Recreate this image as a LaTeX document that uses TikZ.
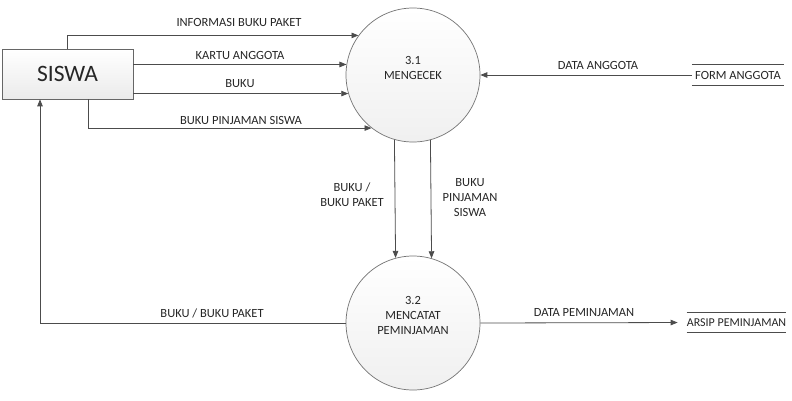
\documentclass[tikz,border=0pt]{standalone}
\usepackage{fontspec}
\setmainfont{Carlito}
\usetikzlibrary{arrows.meta,calc}
\begin{document}
\begin{tikzpicture}[x=1pt,y=-1pt,
  flow/.style={draw=black!70, line width=0.8pt, -{Triangle[length=7pt,width=5.5pt]}},
  lbl/.style={font=\fontsize{12.5}{15}\selectfont, text=black!85, inner sep=0pt, align=center},
  proc/.style={circle, draw=black!55, line width=0.7pt, minimum size=134pt, inner sep=0pt,
               top color=white, bottom color=black!6},
  ent/.style={rectangle, draw=black!60, line width=0.7pt, minimum width=131pt, minimum height=50pt,
              inner sep=0pt, top color=white, bottom color=black!8,
              font=\fontsize{23.5}{28}\selectfont, text=black!85},
  store/.style={font=\fontsize{12.5}{15}\selectfont, text=black!85, inner sep=0pt,
                minimum height=20pt},
  storeline/.style={draw=black!70, line width=0.8pt}]
\useasboundingbox (0,0) rectangle (792,400);

% entity
\node[ent] (siswa) at (67.5,74) {SISWA};

% processes
\node[proc] (c1) at (413,75) {};
\node[lbl] (c1t) at (413,67.5) {3.1\\MENGECEK};
\node[proc] (c2) at (413,323) {};
\node[lbl] (c2t) at (413,315) {3.2\\MENCATAT\\PEMINJAMAN};

% stores
\node[store, minimum width=92pt] (form) at (738,75) {FORM ANGGOTA};
\draw[storeline] (form.north west) -- (form.north east);
\draw[storeline] (form.south west) -- (form.south east);
\node[store, minimum width=95pt, minimum height=19pt, font=\fontsize{12}{15}\selectfont] (arsip) at (736.5,322.5) {ARSIP PEMINJAMAN};
\draw[storeline] (arsip.north west) -- (arsip.north east);
\draw[storeline] (arsip.south west) -- (arsip.south east);

% flows from SISWA
\draw[flow] (67,0 |- siswa.north) |- (c1.144.4);
\draw[flow] (c1.171.4 -| siswa.east) -- (c1.171.4);
\draw[flow] (c1.196.5 -| siswa.east) -- (c1.196.5);
\draw[flow] (88,0 |- siswa.south) |- (c1.232.3);

% return flow
\draw[flow] (c2.west) -| (40,0 |- siswa.south);

% store flows
\draw[flow] (form.west) -- (c1.east);
\draw[flow, shorten >=9pt] (c2.east) -- (arsip.west);

% vertical flows
\draw[flow] (c1.254.4) -- (c2.105.6);
\draw[flow] (c1.285.6) -- (c2.74.4);

% labels
\node[lbl] (l1) at (239,22) {INFORMASI BUKU PAKET};
\node[lbl] (l2) at (240,55) {KARTU ANGGOTA};
\node[lbl] (l3) at (240,84) {BUKU};
\node[lbl] (l4) at (241,120) {BUKU PINJAMAN SISWA};
\node[lbl] (l5) at (212,313) {BUKU / BUKU PAKET};
\node[lbl] (l6) at (598,65) {DATA ANGGOTA};
\node[lbl] (l7) at (584,313) {DATA PEMINJAMAN};
\node[lbl] (l8) at (352,194.5) {BUKU /\\BUKU PAKET};
\node[lbl] (l9) at (470,198) {BUKU\\PINJAMAN\\SISWA};
\end{tikzpicture}
\end{document}
